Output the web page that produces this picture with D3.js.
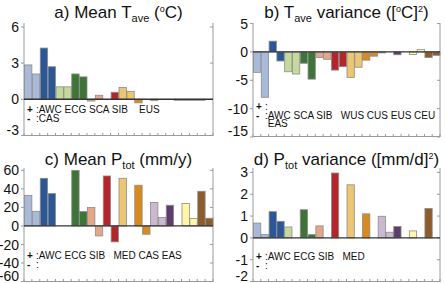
<!DOCTYPE html>
<html>
<head>
<meta charset="utf-8">
<script src="https://cdn.jsdelivr.net/npm/d3@7"></script>
<style>
  body { margin: 0; background: #fff; }
  svg { display: block; font-family: "Liberation Sans", Arial, Helvetica, sans-serif; }
</style>
</head>
<body>
<svg id="chart" width="445" height="283"></svg>
<script>
// colour of each region pair (light / dark), every colour used by two bars
const colours = [
  "#a8b9da", "#2c5797", "#c5d89d", "#3f7438", "#e3a68b", "#b3262b",
  "#ecc575", "#d98a1f", "#cbb8d1", "#5d3b6d", "#fff7a6", "#8e5b2a"
];
const slots = d3.range(24);

// a) mean Tave (degC)
const meanT = [2.85, 2.1, 4.25, 2.7, 1.03, 1.03, 2.1, 1.86, -0.15, 0.33, 0, 0.58,
  0.97, 0.64, -0.3, 0, -0.1, 0, 0, -0.05, -0.1, -0.1, -0.05, 0];
// b) Tave variance
const varT = [-3.6, -8.0, 1.9, -1.6, -3.5, -3.9, -2.0, -4.8, -1.0, -1.3, -3.2, -2.6,
  -4.5, -2.7, -1.45, -0.75, -0.1, 0, -0.5, 0, -0.45, 0.45, -1.0, -0.6];
// c) mean Ptot (mm/y)
const meanP = [33, 15.8, 51.4, 34.9, 0, 0, 60, 15.5, 19.8, -10.8, 53.9, -17.2,
  51.4, 0, 43.9, -9, 25.2, 9, 22.3, 0, 24.1, 7.9, 37.4, 8.3];
// d) Ptot variance
const varP = [0.68, 0.15, 1.2, 0.76, 0.5, 0, 1.29, 0.15, 0.55, 0, 2.97, 0,
  2.43, 0, 1.1, 0, 0.99, 0.26, 0.52, 0, 0.32, 0, 1.35, 0];

const ticksA = [-3, 0, 3, 6];
const ticksB = [-15, -10, -5, 0, 5];
const ticksC = [-60, -40, -20, 0, 20, 40, 60];
const ticksD = [-2, -1, 0, 1, 2, 3];

const panels = [
  { values: meanT, ticks: ticksA, domain: [-3.05, 6.33], x0: 24, x1: 213, y0: 23, y1: 136, ty: 18,
    title: [["a) Mean T", ""], ["ave", "sub"], [" (", ""], ["o", "sup"], ["C)", ""]],
    lines: [["+", ":AWC ECG SCA SIB    EUS"], ["-", ":CAS"]], ly: 90 },
  { values: varT, ticks: ticksB, domain: [-15, 5.1], x0: 253, x1: 440, y0: 23, y1: 137, ty: 18,
    title: [["b) T", ""], ["ave", "sub"], [" variance ([", ""], ["o", "sup"], ["C]", ""], ["2", "sup"], [")", ""]],
    lines: [["+", ":"], ["-", ":AWC SCA SIB   WUS CUS EUS CEU"], ["", " EAS"]], ly: 87 },
  { values: meanP, ticks: ticksC, domain: [-60.5, 62.5], x0: 24, x1: 213, y0: 168, y1: 282, ty: 165,
    title: [["c) Mean P", ""], ["tot", "sub"], [" (mm/y)", ""]],
    lines: [["+", ":AWC ECG SIB   MED CAS EAS"], ["-", ":"]], ly: 91 },
  { values: varP, ticks: ticksD, domain: [-2.02, 3.2], x0: 253, x1: 440, y0: 168, y1: 282, ty: 165,
    title: [["d) P", ""], ["tot", "sub"], [" variance ([mm/d]", ""], ["2", "sup"], [")", ""]],
    lines: [["+", ":AWC ECG SIB   MED"], ["-", ":"]], ly: 92 }
];

const svg = d3.select("#chart");
const axisColour = "#9a9a9a";

panels.forEach(p => {
  const x = d3.scaleBand().domain(slots).range([p.x0, p.x1]).padding(0);
  const y = d3.scaleLinear().domain(p.domain).range([p.y1, p.y0]);
  const g = svg.append("g");

  // frame: left, right, bottom
  g.append("line").attr("x1", p.x0).attr("x2", p.x0).attr("y1", p.y0).attr("y2", p.y1)
    .attr("stroke", axisColour);
  g.append("line").attr("x1", p.x1).attr("x2", p.x1).attr("y1", p.y0).attr("y2", p.y1)
    .attr("stroke", axisColour);
  g.append("line").attr("x1", p.x0).attr("x2", p.x1).attr("y1", p.y1 - 0.5).attr("y2", p.y1 - 0.5)
    .attr("stroke", axisColour);

  // y ticks, outside on the left and inside on the right
  g.selectAll(".lt").data(p.ticks).enter().append("line")
    .attr("x1", p.x0 - 3).attr("x2", p.x0)
    .attr("y1", d => y(d)).attr("y2", d => y(d))
    .attr("stroke", axisColour);
  g.selectAll(".rt").data(p.ticks).enter().append("line")
    .attr("x1", p.x1 - 3).attr("x2", p.x1)
    .attr("y1", d => y(d)).attr("y2", d => y(d))
    .attr("stroke", axisColour);
  g.selectAll(".tl").data(p.ticks).enter().append("text")
    .attr("x", p.x0 - 5).attr("y", d => Math.min(y(d), p.y1 - 6)).attr("dy", "0.36em")
    .attr("text-anchor", "end").attr("font-size", 14).attr("fill", "#111")
    .text(d => d);

  // bottom ticks at slot boundaries
  g.selectAll(".bt").data(slots.concat([24])).enter().append("line")
    .attr("x1", d => d < 24 ? x(d) : p.x1).attr("x2", d => d < 24 ? x(d) : p.x1)
    .attr("y1", p.y1 - 3).attr("y2", p.y1)
    .attr("stroke", axisColour);

  // bars
  const bars = p.values.map((v, i) => ({ v, i })).filter(d => d.v !== 0);
  g.selectAll(".bar").data(bars).enter().append("rect")
    .attr("x", d => x(d.i) + 0.5)
    .attr("width", x.bandwidth() - 0.5)
    .attr("y", d => y(Math.max(0, d.v)))
    .attr("height", d => Math.max(1, Math.abs(y(d.v) - y(0))))
    .attr("fill", d => colours[Math.floor(d.i / 2)])
    .attr("stroke", "#8c8c8c").attr("stroke-width", 0.8);

  // zero line
  g.append("line").attr("x1", p.x0).attr("x2", p.x1).attr("y1", y(0)).attr("y2", y(0))
    .attr("stroke", "#333").attr("stroke-width", 1.3);

  // title with sub/superscripts
  const t = g.append("text").attr("x", (p.x0 + p.x1) / 2).attr("y", p.ty)
    .attr("text-anchor", "middle").attr("font-size", 17).attr("fill", "#111");
  let shift = 0;
  p.title.forEach(([s, kind]) => {
    const target = kind === "sub" ? 3.5 : kind === "sup" ? -6 : 0;
    t.append("tspan").attr("dy", target - shift)
      .attr("font-size", kind === "sub" ? 11 : kind === "sup" ? 9 : 17)
      .text(s);
    shift = target;
  });

  // +/- region notes
  p.lines.forEach(([sign, rest], k) => {
    const ly = p.y0 + p.ly + k * 8.7;
    g.append("text").attr("x", p.x0 + 3).attr("y", ly).attr("font-size", 10)
      .attr("font-weight", "bold").attr("fill", "#111").text(sign);
    g.append("text").attr("x", p.x0 + 12).attr("y", ly).attr("font-size", 10)
      .attr("fill", "#111").style("white-space", "pre").text(rest);
  });
});
</script>
</body>
</html>
